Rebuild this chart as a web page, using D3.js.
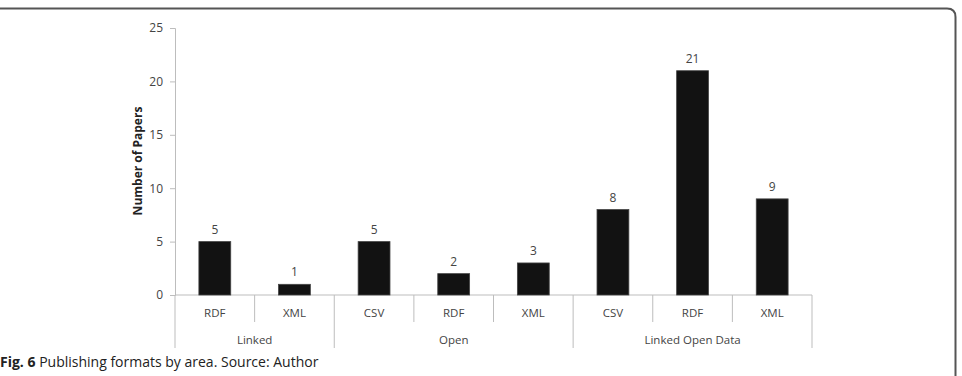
<!DOCTYPE html>
<html>
<head>
<meta charset="utf-8">
<script src="https://cdn.jsdelivr.net/npm/d3@7"></script>
<style>
  html, body { margin: 0; padding: 0; background: #fff; }
  svg { display: block; }
</style>
</head>
<body>
<svg id="chart" width="962" height="376"></svg>
<script>
const groups = ["Linked", "Open", "Linked Open Data"];
const formats = [
  ["RDF", "XML"],
  ["CSV", "RDF", "XML"],
  ["CSV", "RDF", "XML"]
];
const values = [
  [5, 1],
  [5, 2, 3],
  [8, 21, 9]
];
const yTicks = [0, 5, 10, 15, 20, 25];
const yTitle = "Number of Papers";
const captionBold = "Fig. 6";
const captionText = " Publishing formats by area. Source: Author";

const svg = d3.select("#chart");
const font = "'Open Sans', 'Noto Sans', sans-serif";

// flatten
const items = [];
groups.forEach((g, gi) => formats[gi].forEach((f, fi) => {
  items.push({ key: gi + "-" + fi, group: g, gi, format: f, value: values[gi][fi] });
}));

const x0 = 175, x1 = 812, yBase = 295, yTop = 28;
const x = d3.scaleBand().domain(items.map(d => d.key)).range([x0, x1]).paddingInner(0).paddingOuter(0);
const y = d3.scaleLinear().domain([0, 25]).range([yBase, yTop]);

// frame
svg.append("path")
  .attr("d", `M0,8.5 H947 Q955.5,8.5 955.5,17 V376`)
  .attr("fill", "none").attr("stroke", "#555").attr("stroke-width", 2);

const axisColor = "#bdbdbd";

// y axis
const yAxis = svg.append("g").attr("transform", `translate(${x0},0)`)
  .call(d3.axisLeft(y).tickValues(yTicks).tickSize(5).tickPadding(7));
yAxis.select(".domain").attr("stroke", axisColor);
yAxis.selectAll(".tick line").attr("stroke", axisColor);
yAxis.selectAll(".tick text").attr("fill", "#444").style("font-family", font).style("font-size", "12px");

svg.append("text")
  .attr("transform", `translate(142,161) rotate(-90)`)
  .attr("text-anchor", "middle")
  .attr("fill", "#222")
  .style("font-family", font).style("font-size", "12px").style("font-weight", "bold")
  .text(yTitle);

// x baseline
svg.append("line").attr("x1", x0).attr("x2", x1).attr("y1", yBase).attr("y2", yBase)
  .attr("stroke", axisColor);

// dividers
const boundaries = [];
let idx = 0;
groups.forEach((g, gi) => {
  formats[gi].forEach((f, fi) => {
    const left = x(items[idx].key);
    boundaries.push({ x: left, groupStart: fi === 0 });
    idx++;
  });
});
boundaries.push({ x: x1, groupStart: true });
svg.selectAll("line.div").data(boundaries).enter().append("line")
  .attr("x1", d => d.x).attr("x2", d => d.x)
  .attr("y1", yBase).attr("y2", d => d.groupStart ? 348 : 322)
  .attr("stroke", axisColor);

// bars
const bw = x.bandwidth() * 0.4;
svg.selectAll("rect.bar").data(items).enter().append("rect")
  .attr("x", d => x(d.key) + (x.bandwidth() - bw) / 2)
  .attr("width", bw)
  .attr("y", d => y(d.value))
  .attr("height", d => y(0) - y(d.value))
  .attr("fill", "#121212")
  .attr("stroke", "#444").attr("stroke-width", 0.8);

// value labels
svg.selectAll("text.val").data(items).enter().append("text")
  .attr("x", d => x(d.key) + x.bandwidth() / 2)
  .attr("y", d => y(d.value) - 8)
  .attr("text-anchor", "middle")
  .attr("fill", "#444")
  .style("font-family", font).style("font-size", "12px")
  .text(d => d.value);

// category labels
svg.selectAll("text.cat").data(items).enter().append("text")
  .attr("x", d => x(d.key) + x.bandwidth() / 2)
  .attr("y", 317)
  .attr("text-anchor", "middle")
  .attr("fill", "#444")
  .style("font-family", font).style("font-size", "11.5px")
  .text(d => d.format);

// group labels
groups.forEach((g, gi) => {
  const ks = items.filter(d => d.gi === gi);
  const l = x(ks[0].key), r = x(ks[ks.length - 1].key) + x.bandwidth();
  svg.append("text")
    .attr("x", (l + r) / 2).attr("y", 344)
    .attr("text-anchor", "middle")
    .attr("fill", "#444")
    .style("font-family", font).style("font-size", "11.5px")
    .text(g);
});

// caption
const cap = svg.append("text").attr("x", 0).attr("y", 367)
  .attr("fill", "#222")
  .style("font-family", font).style("font-size", "14px");
cap.append("tspan").style("font-weight", "bold").text(captionBold);
cap.append("tspan").text(captionText);
</script>
</body>
</html>
